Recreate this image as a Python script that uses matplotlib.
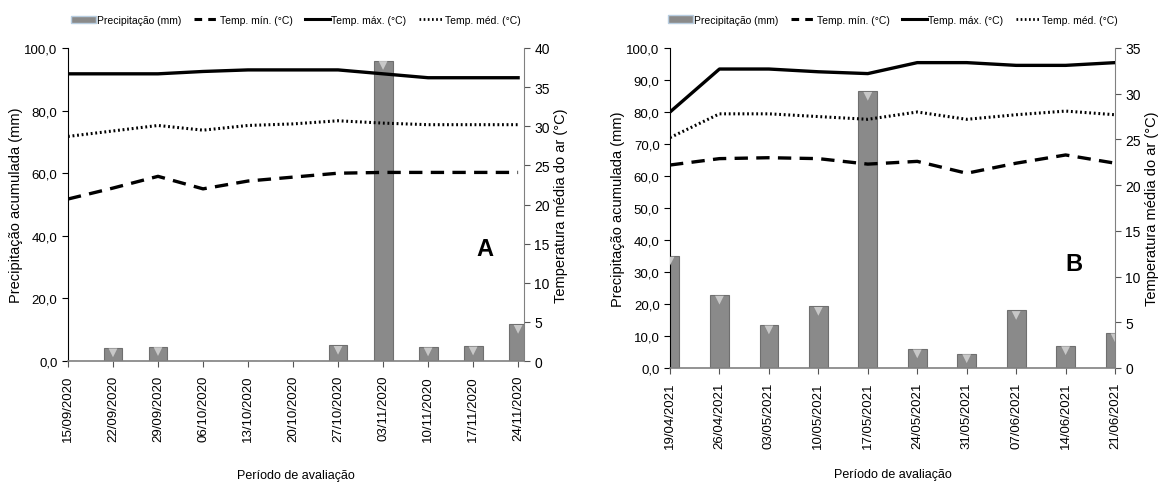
"""
Weekly rainfall and air temperature over two evaluation periods (A and B).
Bars show accumulated rainfall (left axis), lines show min, max and mean
air temperature (right axis). The figure is saved as out.png.
"""

import matplotlib
matplotlib.use("Agg")
from matplotlib import pyplot as plt
from matplotlib.patches import Patch
from matplotlib.lines import Line2D

# Panel A data (2020)
dates_a = ["15/09/2020", "22/09/2020", "29/09/2020", "06/10/2020", "13/10/2020",
           "20/10/2020", "27/10/2020", "03/11/2020", "10/11/2020", "17/11/2020",
           "24/11/2020"]
rain_a = [0.0, 4.2, 4.6, 0.0, 0.0, 0.0, 5.0, 96.0, 4.5, 4.8, 11.7]
tmin_a = [20.7, 22.1, 23.6, 22.0, 23.0, 23.5, 24.0, 24.1, 24.1, 24.1, 24.1]
tmax_a = [36.7, 36.7, 36.7, 37.0, 37.2, 37.2, 37.2, 36.7, 36.2, 36.2, 36.2]
tmed_a = [28.7, 29.4, 30.1, 29.5, 30.1, 30.3, 30.7, 30.4, 30.2, 30.2, 30.2]

# Panel B data (2021)
dates_b = ["19/04/2021", "26/04/2021", "03/05/2021", "10/05/2021", "17/05/2021",
           "24/05/2021", "31/05/2021", "07/06/2021", "14/06/2021", "21/06/2021"]
rain_b = [35.0, 22.8, 13.5, 19.3, 86.5, 6.0, 4.5, 18.0, 7.0, 11.0]
tmin_b = [22.2, 22.9, 23.0, 22.9, 22.3, 22.6, 21.3, 22.4, 23.3, 22.4]
tmax_b = [28.0, 32.7, 32.7, 32.4, 32.2, 33.4, 33.4, 33.1, 33.1, 33.4]
tmed_b = [25.2, 27.8, 27.8, 27.5, 27.2, 28.0, 27.2, 27.7, 28.1, 27.7]

FONT = ["Liberation Sans", "DejaVu Sans"]


def drawPanel(fig, rect, dates, rain, tmin, tmax, tmed, yticks_left, tmax_axis,
              xmax, bar_width, letter, letter_pos, xlabel_pad):
    """
    Draws one panel: rainfall bars on the left axis and three temperature
    lines on a twin right axis.
    """
    ax = fig.add_axes(rect)
    x = list(range(len(dates)))

    # Rainfall bars with a light bevel mark at the top
    ax.bar(x, rain, width=bar_width, color="#8a8a8a", edgecolor="#6f6f6f",
           linewidth=0.8, zorder=2)
    tops = [(i, r) for i, r in zip(x, rain) if r > 0]
    ax.scatter([t[0] for t in tops], [t[1] - 1.6 for t in tops], marker="v",
               s=40, color="#c8c8c8", edgecolors="none", zorder=3, clip_on=True)

    ax.set_xlim(0, xmax)
    ax.set_ylim(0, 100)
    ax.set_yticks(yticks_left)
    ax.set_yticklabels([f"{v:.1f}".replace(".", ",") for v in yticks_left],
                       family=FONT, fontsize=9.5)
    ax.set_xticks(x)
    ax.set_xticklabels(dates, rotation=90, family=FONT, fontsize=9.5)
    ax.tick_params(axis="x", direction="out", length=4, pad=6, color="#555555")
    ax.tick_params(axis="y", direction="out", length=4)
    ax.set_ylabel("Precipitação acumulada (mm)", family=FONT, fontsize=10.5,
                  labelpad=1)
    ax.set_xlabel("Período de avaliação", family=FONT, fontsize=9,
                  labelpad=xlabel_pad)
    ax.spines["top"].set_visible(False)
    ax.spines["right"].set_visible(False)
    ax.spines["bottom"].set_color("#808080")
    ax.spines["bottom"].set_linewidth(1.2)

    # Temperature lines on the right axis
    ax2 = ax.twinx()
    ax2.plot(x, tmin, color="black", linewidth=2.4, linestyle=(0, (4, 2.5)),
             zorder=4)
    ax2.plot(x, tmax, color="black", linewidth=2.4, linestyle="-", zorder=4)
    ax2.plot(x, tmed, color="black", linewidth=2.2, linestyle=(0, (0.6, 0.9)),
             zorder=4)
    ax2.set_ylim(0, tmax_axis)
    ax2.set_yticks(list(range(0, tmax_axis + 1, 5)))
    ax2.set_yticklabels([str(v) for v in range(0, tmax_axis + 1, 5)],
                        family=FONT, fontsize=10)
    ax2.tick_params(axis="y", direction="out", length=4, color="#555555")
    ax2.set_ylabel("Temperatura média do ar (°C)", family=FONT, fontsize=10.5,
                   labelpad=3)
    for side in ["top", "left", "bottom"]:
        ax2.spines[side].set_visible(False)
    ax2.spines["right"].set_color("#808080")

    # Panel letter
    ax.text(letter_pos[0], letter_pos[1], letter, transform=ax.transAxes,
            fontsize=17, fontweight="bold", family=FONT, ha="center",
            va="center")

    # Legend above the panel
    handles = [
        Patch(facecolor="#8a8a8a", edgecolor="#b8cde0", linewidth=1.0),
        Line2D([0], [0], color="black", linewidth=2.2, linestyle=(0, (2.5, 2))),
        Line2D([0], [0], color="black", linewidth=2.2, linestyle="-"),
        Line2D([0], [0], color="black", linewidth=2.0, linestyle=(0, (0.6, 0.9))),
    ]
    labels = ["Precipitação (mm)", "Temp. mín. (°C)", "Temp. máx. (°C)",
              "Temp. méd. (°C)"]
    ax.legend(handles, labels, loc="lower center", bbox_to_anchor=(0.5, 1.06),
              ncol=4, frameon=False, prop={"family": FONT, "size": 7.5},
              handlelength=2.4, handletextpad=0.1, columnspacing=1.2,
              borderaxespad=0)
    return ax, ax2


def main():
    """
    Builds the two-panel figure and saves it.
    """
    fig = plt.figure(figsize=(11.62, 4.89), dpi=100)

    drawPanel(fig, [0.0585, 0.2597, 0.3924, 0.6401], dates_a, rain_a, tmin_a,
              tmax_a, tmed_a, [0, 20, 40, 60, 80, 100], 40, 10.13, 0.42, "A",
              (0.914, 0.36), 20)
    drawPanel(fig, [0.5766, 0.2454, 0.3830, 0.6544], dates_b, rain_b, tmin_b,
              tmax_b, tmed_b, list(range(0, 101, 10)), 35, 9.0, 0.38, "B",
              (0.907, 0.325), 14)

    fig.savefig("out.png", dpi=100)


if __name__ == "__main__":
    main()
